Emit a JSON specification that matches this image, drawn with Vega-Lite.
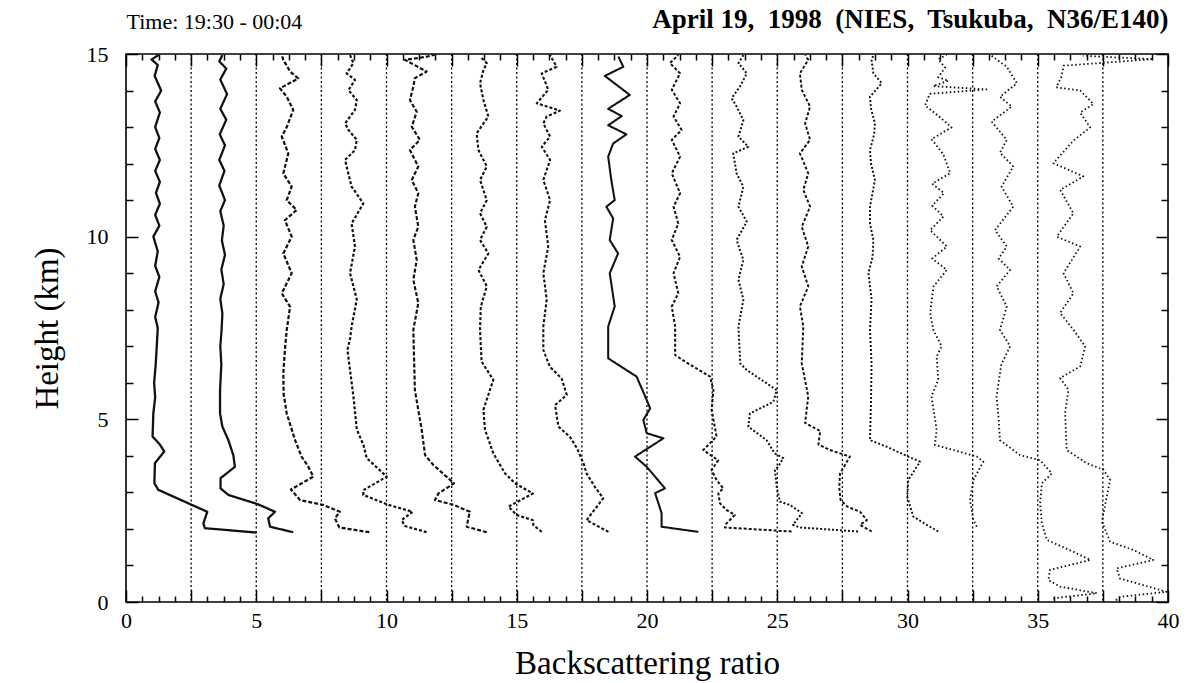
{
  "$schema": "https://vega.github.io/schema/vega-lite/v6.json",
  "width": 1042,
  "height": 548,
  "autosize": {"type": "none"},
  "padding": {"left": 126, "top": 54, "right": 22, "bottom": 81},
  "background": "white",
  "config": {
    "font": "Liberation Serif",
    "view": {"stroke": "#000", "strokeWidth": 1.6},
    "axis": {"labelColor": "#000", "titleColor": "#000", "tickColor": "#000", "domain": false, "grid": false, "tickWidth": 1.5}
  },
  "datasets": {
    "frame": [{"x": 0, "h": 0}, {"x": 40, "h": 15}],
    "grid": [{"v": 2.5}, {"v": 5}, {"v": 7.5}, {"v": 10}, {"v": 12.5}, {"v": 15}, {"v": 17.5}, {"v": 20}, {"v": 22.5}, {"v": 25}, {"v": 27.5}, {"v": 30}, {"v": 32.5}, {"v": 35}, {"v": 37.5}],
    "profiles": [
      {"p":1,"h":1.90,"x":5.02},{"p":1,"h":2.02,"x":3.03},{"p":1,"h":2.15,"x":2.97},{"p":1,"h":2.47,"x":3.12},{"p":1,"h":2.66,"x":2.52},{"p":1,"h":3.07,"x":1.24},{"p":1,"h":3.25,"x":1.09},{"p":1,"h":3.80,"x":1.11},{"p":1,"h":4.12,"x":1.47},{"p":1,"h":4.30,"x":1.31},{"p":1,"h":4.53,"x":1.02},{"p":1,"h":5.17,"x":1.05},{"p":1,"h":5.6,"x":1.12},{"p":1,"h":6.0,"x":1.08},{"p":1,"h":6.5,"x":1.14},{"p":1,"h":7.0,"x":1.18},{"p":1,"h":7.5,"x":1.22},{"p":1,"h":7.8,"x":1.12},{"p":1,"h":8.2,"x":1.25},{"p":1,"h":8.5,"x":1.12},{"p":1,"h":8.9,"x":1.28},{"p":1,"h":9.2,"x":1.12},{"p":1,"h":9.6,"x":1.22},{"p":1,"h":10.0,"x":1.05},{"p":1,"h":10.3,"x":1.28},{"p":1,"h":10.6,"x":1.12},{"p":1,"h":10.9,"x":1.30},{"p":1,"h":11.2,"x":1.15},{"p":1,"h":11.5,"x":1.30},{"p":1,"h":11.8,"x":1.12},{"p":1,"h":12.1,"x":1.30},{"p":1,"h":12.4,"x":1.12},{"p":1,"h":12.7,"x":1.28},{"p":1,"h":13.0,"x":1.12},{"p":1,"h":13.4,"x":1.30},{"p":1,"h":13.7,"x":1.12},{"p":1,"h":14.0,"x":1.35},{"p":1,"h":14.4,"x":1.10},{"p":1,"h":14.7,"x":1.22},{"p":1,"h":14.85,"x":0.98},{"p":1,"h":14.97,"x":1.25},
      {"p":2,"h":1.91,"x":6.42},{"p":2,"h":2.06,"x":5.53},{"p":2,"h":2.29,"x":5.46},{"p":2,"h":2.47,"x":5.72},{"p":2,"h":2.68,"x":5.05},{"p":2,"h":2.93,"x":3.93},{"p":2,"h":3.11,"x":3.63},{"p":2,"h":3.39,"x":3.63},{"p":2,"h":3.70,"x":4.18},{"p":2,"h":4.02,"x":4.12},{"p":2,"h":4.43,"x":3.93},{"p":2,"h":4.80,"x":3.70},{"p":2,"h":5.16,"x":3.61},{"p":2,"h":5.80,"x":3.61},{"p":2,"h":6.5,"x":3.66},{"p":2,"h":7.0,"x":3.62},{"p":2,"h":7.45,"x":3.67},{"p":2,"h":7.9,"x":3.70},{"p":2,"h":8.3,"x":3.62},{"p":2,"h":8.7,"x":3.75},{"p":2,"h":9.1,"x":3.66},{"p":2,"h":9.5,"x":3.80},{"p":2,"h":9.9,"x":3.68},{"p":2,"h":10.3,"x":3.75},{"p":2,"h":10.7,"x":3.62},{"p":2,"h":11.0,"x":3.80},{"p":2,"h":11.4,"x":3.58},{"p":2,"h":11.8,"x":3.78},{"p":2,"h":12.1,"x":3.58},{"p":2,"h":12.5,"x":3.80},{"p":2,"h":12.8,"x":3.60},{"p":2,"h":13.2,"x":3.85},{"p":2,"h":13.5,"x":3.62},{"p":2,"h":13.9,"x":3.88},{"p":2,"h":14.3,"x":3.62},{"p":2,"h":14.6,"x":3.85},{"p":2,"h":14.8,"x":3.58},{"p":2,"h":14.97,"x":3.70},
      {"p":3,"h":1.91,"x":9.34},{"p":3,"h":2.04,"x":8.19},{"p":3,"h":2.29,"x":8.02},{"p":3,"h":2.47,"x":8.21},{"p":3,"h":2.66,"x":7.55},{"p":3,"h":2.79,"x":6.68},{"p":3,"h":3.08,"x":6.33},{"p":3,"h":3.43,"x":7.19},{"p":3,"h":3.70,"x":7.00},{"p":3,"h":3.98,"x":6.74},{"p":3,"h":4.43,"x":6.49},{"p":3,"h":5.16,"x":6.17},{"p":3,"h":5.70,"x":6.05},{"p":3,"h":6.26,"x":6.04},{"p":3,"h":6.90,"x":6.10},{"p":3,"h":7.45,"x":6.17},{"p":3,"h":8.08,"x":6.30},{"p":3,"h":8.45,"x":5.98},{"p":3,"h":9.0,"x":6.36},{"p":3,"h":9.54,"x":6.04},{"p":3,"h":10.0,"x":6.36},{"p":3,"h":10.45,"x":6.10},{"p":3,"h":10.73,"x":6.55},{"p":3,"h":11.0,"x":6.17},{"p":3,"h":11.37,"x":6.36},{"p":3,"h":11.73,"x":6.04},{"p":3,"h":12.28,"x":6.23},{"p":3,"h":12.74,"x":5.98},{"p":3,"h":13.0,"x":6.17},{"p":3,"h":13.47,"x":6.42},{"p":3,"h":13.83,"x":6.17},{"p":3,"h":14.06,"x":5.91},{"p":3,"h":14.33,"x":6.61},{"p":3,"h":14.52,"x":6.30},{"p":3,"h":14.84,"x":6.04},{"p":3,"h":14.97,"x":5.98},
      {"p":4,"h":1.91,"x":11.54},{"p":4,"h":2.08,"x":10.71},{"p":4,"h":2.24,"x":10.58},{"p":4,"h":2.47,"x":11.00},{"p":4,"h":2.66,"x":10.07},{"p":4,"h":2.93,"x":9.11},{"p":4,"h":3.06,"x":9.11},{"p":4,"h":3.43,"x":10.01},{"p":4,"h":3.94,"x":9.24},{"p":4,"h":4.31,"x":9.11},{"p":4,"h":4.72,"x":8.86},{"p":4,"h":5.63,"x":8.73},{"p":4,"h":6.90,"x":8.50},{"p":4,"h":7.20,"x":8.60},{"p":4,"h":7.54,"x":8.66},{"p":4,"h":8.28,"x":8.86},{"p":4,"h":9.0,"x":8.60},{"p":4,"h":9.73,"x":8.79},{"p":4,"h":10.36,"x":8.66},{"p":4,"h":10.91,"x":9.11},{"p":4,"h":11.37,"x":8.66},{"p":4,"h":11.92,"x":8.47},{"p":4,"h":12.1,"x":8.41},{"p":4,"h":12.37,"x":8.79},{"p":4,"h":12.65,"x":8.86},{"p":4,"h":12.92,"x":8.54},{"p":4,"h":13.1,"x":8.41},{"p":4,"h":13.47,"x":8.79},{"p":4,"h":13.74,"x":8.86},{"p":4,"h":14.01,"x":8.54},{"p":4,"h":14.29,"x":8.79},{"p":4,"h":14.47,"x":8.47},{"p":4,"h":14.75,"x":8.73},{"p":4,"h":14.97,"x":8.60},
      {"p":5,"h":1.91,"x":13.85},{"p":5,"h":2.06,"x":13.08},{"p":5,"h":2.29,"x":13.14},{"p":5,"h":2.47,"x":13.20},{"p":5,"h":2.66,"x":12.57},{"p":5,"h":2.79,"x":11.86},{"p":5,"h":2.97,"x":11.99},{"p":5,"h":3.25,"x":12.59},{"p":5,"h":3.75,"x":11.80},{"p":5,"h":4.02,"x":11.48},{"p":5,"h":4.72,"x":11.35},{"p":5,"h":5.80,"x":11.09},{"p":5,"h":7.45,"x":11.03},{"p":5,"h":8.18,"x":11.22},{"p":5,"h":8.82,"x":11.03},{"p":5,"h":9.36,"x":11.16},{"p":5,"h":9.91,"x":11.03},{"p":5,"h":10.27,"x":11.22},{"p":5,"h":10.82,"x":11.09},{"p":5,"h":11.19,"x":11.22},{"p":5,"h":11.55,"x":10.97},{"p":5,"h":11.92,"x":11.22},{"p":5,"h":12.37,"x":10.90},{"p":5,"h":12.65,"x":11.28},{"p":5,"h":13.01,"x":10.97},{"p":5,"h":13.42,"x":11.16},{"p":5,"h":13.74,"x":10.90},{"p":5,"h":14.11,"x":11.03},{"p":5,"h":14.34,"x":11.09},{"p":5,"h":14.52,"x":11.54},{"p":5,"h":14.84,"x":10.71},{"p":5,"h":14.92,"x":11.50},{"p":5,"h":14.98,"x":11.85},
      {"p":6,"h":1.92,"x":15.96},{"p":6,"h":2.10,"x":15.64},{"p":6,"h":2.24,"x":15.62},{"p":6,"h":2.38,"x":15.00},{"p":6,"h":2.61,"x":14.68},{"p":6,"h":2.97,"x":15.62},{"p":6,"h":3.25,"x":14.93},{"p":6,"h":3.52,"x":14.55},{"p":6,"h":4.07,"x":14.10},{"p":6,"h":4.72,"x":13.78},{"p":6,"h":5.26,"x":13.72},{"p":6,"h":6.08,"x":14.10},{"p":6,"h":6.58,"x":13.65},{"p":6,"h":7.45,"x":13.59},{"p":6,"h":8.08,"x":13.62},{"p":6,"h":8.64,"x":13.85},{"p":6,"h":9.09,"x":13.53},{"p":6,"h":9.54,"x":13.91},{"p":6,"h":9.91,"x":13.59},{"p":6,"h":10.27,"x":13.85},{"p":6,"h":10.64,"x":13.59},{"p":6,"h":11.0,"x":13.85},{"p":6,"h":11.55,"x":13.59},{"p":6,"h":11.92,"x":13.85},{"p":6,"h":12.37,"x":13.53},{"p":6,"h":12.83,"x":13.46},{"p":6,"h":13.29,"x":13.91},{"p":6,"h":13.74,"x":13.72},{"p":6,"h":14.2,"x":13.59},{"p":6,"h":14.56,"x":13.72},{"p":6,"h":14.75,"x":13.85},{"p":6,"h":14.93,"x":13.59},
      {"p":7,"h":1.92,"x":18.52},{"p":7,"h":2.24,"x":17.68},{"p":7,"h":2.84,"x":18.32},{"p":7,"h":3.16,"x":17.99},{"p":7,"h":3.52,"x":17.68},{"p":7,"h":3.80,"x":17.56},{"p":7,"h":4.21,"x":17.31},{"p":7,"h":4.52,"x":17.04},{"p":7,"h":4.80,"x":16.60},{"p":7,"h":5.39,"x":16.47},{"p":7,"h":5.67,"x":16.92},{"p":7,"h":6.12,"x":16.72},{"p":7,"h":6.44,"x":16.27},{"p":7,"h":6.90,"x":16.02},{"p":7,"h":7.54,"x":16.02},{"p":7,"h":8.28,"x":16.15},{"p":7,"h":9.0,"x":16.02},{"p":7,"h":9.73,"x":16.21},{"p":7,"h":10.45,"x":16.08},{"p":7,"h":11.0,"x":16.28},{"p":7,"h":11.55,"x":16.02},{"p":7,"h":12.1,"x":16.28},{"p":7,"h":12.46,"x":15.96},{"p":7,"h":12.74,"x":16.28},{"p":7,"h":13.1,"x":16.02},{"p":7,"h":13.29,"x":16.15},{"p":7,"h":13.45,"x":16.66},{"p":7,"h":13.65,"x":15.77},{"p":7,"h":14.02,"x":16.21},{"p":7,"h":14.47,"x":15.96},{"p":7,"h":14.65,"x":16.53},{"p":7,"h":14.97,"x":16.28},
      {"p":8,"h":1.92,"x":21.97},{"p":8,"h":2.06,"x":20.56},{"p":8,"h":2.43,"x":20.56},{"p":8,"h":2.70,"x":20.44},{"p":8,"h":2.98,"x":20.31},{"p":8,"h":3.11,"x":20.69},{"p":8,"h":3.70,"x":19.99},{"p":8,"h":3.98,"x":19.54},{"p":8,"h":4.48,"x":20.63},{"p":8,"h":4.62,"x":19.99},{"p":8,"h":4.98,"x":19.86},{"p":8,"h":5.30,"x":20.12},{"p":8,"h":5.53,"x":19.99},{"p":8,"h":6.17,"x":19.60},{"p":8,"h":6.67,"x":18.51},{"p":8,"h":7.54,"x":18.51},{"p":8,"h":8.09,"x":18.76},{"p":8,"h":9.0,"x":18.57},{"p":8,"h":9.54,"x":18.89},{"p":8,"h":9.91,"x":18.57},{"p":8,"h":10.5,"x":18.70},{"p":8,"h":10.82,"x":18.44},{"p":8,"h":11.0,"x":18.76},{"p":8,"h":11.55,"x":18.63},{"p":8,"h":12.19,"x":18.51},{"p":8,"h":12.55,"x":18.70},{"p":8,"h":12.80,"x":19.21},{"p":8,"h":13.05,"x":18.51},{"p":8,"h":13.30,"x":19.03},{"p":8,"h":13.50,"x":18.51},{"p":8,"h":13.88,"x":19.34},{"p":8,"h":14.40,"x":18.38},{"p":8,"h":14.65,"x":19.09},{"p":8,"h":14.93,"x":18.90},
      {"p":9,"h":1.93,"x":25.55},{"p":9,"h":2.04,"x":22.99},{"p":9,"h":2.15,"x":23.05},{"p":9,"h":2.38,"x":23.37},{"p":9,"h":2.52,"x":23.05},{"p":9,"h":2.70,"x":22.80},{"p":9,"h":2.98,"x":22.74},{"p":9,"h":3.11,"x":22.93},{"p":9,"h":3.34,"x":22.67},{"p":9,"h":3.61,"x":22.48},{"p":9,"h":3.88,"x":22.73},{"p":9,"h":4.16,"x":22.16},{"p":9,"h":4.53,"x":22.67},{"p":9,"h":5.26,"x":22.48},{"p":9,"h":5.80,"x":22.55},{"p":9,"h":6.17,"x":22.42},{"p":9,"h":6.58,"x":21.46},{"p":9,"h":6.76,"x":21.08},{"p":9,"h":7.54,"x":21.08},{"p":9,"h":8.09,"x":20.95},{"p":9,"h":8.45,"x":21.20},{"p":9,"h":9.0,"x":21.02},{"p":9,"h":9.45,"x":21.27},{"p":9,"h":9.91,"x":20.95},{"p":9,"h":10.36,"x":21.20},{"p":9,"h":10.82,"x":21.02},{"p":9,"h":11.19,"x":21.27},{"p":9,"h":11.73,"x":20.95},{"p":9,"h":12.19,"x":21.27},{"p":9,"h":12.65,"x":20.95},{"p":9,"h":12.92,"x":21.33},{"p":9,"h":13.29,"x":21.02},{"p":9,"h":13.65,"x":21.27},{"p":9,"h":14.02,"x":20.95},{"p":9,"h":14.47,"x":21.27},{"p":9,"h":14.75,"x":20.88},{"p":9,"h":14.97,"x":21.20},
      {"p":10,"h":1.93,"x":28.10},{"p":10,"h":2.04,"x":25.87},{"p":10,"h":2.11,"x":25.60},{"p":10,"h":2.43,"x":25.95},{"p":10,"h":2.65,"x":25.50},{"p":10,"h":2.75,"x":25.10},{"p":10,"h":3.15,"x":24.98},{"p":10,"h":3.61,"x":24.91},{"p":10,"h":3.70,"x":25.03},{"p":10,"h":3.94,"x":25.23},{"p":10,"h":4.07,"x":24.90},{"p":10,"h":4.43,"x":24.59},{"p":10,"h":4.80,"x":23.89},{"p":10,"h":5.16,"x":23.95},{"p":10,"h":5.48,"x":24.85},{"p":10,"h":5.80,"x":24.98},{"p":10,"h":6.35,"x":23.83},{"p":10,"h":6.53,"x":23.58},{"p":10,"h":7.54,"x":23.51},{"p":10,"h":8.28,"x":23.70},{"p":10,"h":8.82,"x":23.51},{"p":10,"h":9.36,"x":23.70},{"p":10,"h":9.91,"x":23.44},{"p":10,"h":10.41,"x":23.83},{"p":10,"h":10.82,"x":23.51},{"p":10,"h":11.37,"x":23.70},{"p":10,"h":11.73,"x":23.44},{"p":10,"h":12.28,"x":23.31},{"p":10,"h":12.46,"x":23.89},{"p":10,"h":12.74,"x":23.51},{"p":10,"h":13.19,"x":23.70},{"p":10,"h":13.56,"x":23.44},{"p":10,"h":13.79,"x":23.25},{"p":10,"h":14.11,"x":23.57},{"p":10,"h":14.47,"x":23.83},{"p":10,"h":14.75,"x":23.51},{"p":10,"h":14.97,"x":23.70},
      {"p":11,"h":1.93,"x":28.63},{"p":11,"h":2.11,"x":28.18},{"p":11,"h":2.24,"x":28.44},{"p":11,"h":2.47,"x":28.18},{"p":11,"h":2.61,"x":27.69},{"p":11,"h":2.79,"x":27.43},{"p":11,"h":3.15,"x":27.38},{"p":11,"h":3.52,"x":27.41},{"p":11,"h":3.98,"x":27.79},{"p":11,"h":4.16,"x":27.02},{"p":11,"h":4.31,"x":26.58},{"p":11,"h":4.68,"x":26.65},{"p":11,"h":4.90,"x":26.07},{"p":11,"h":5.63,"x":26.19},{"p":11,"h":6.53,"x":25.94},{"p":11,"h":7.54,"x":26.00},{"p":11,"h":8.09,"x":25.87},{"p":11,"h":8.64,"x":26.19},{"p":11,"h":9.18,"x":25.94},{"p":11,"h":9.73,"x":26.19},{"p":11,"h":10.27,"x":25.94},{"p":11,"h":10.82,"x":26.26},{"p":11,"h":11.28,"x":26.00},{"p":11,"h":11.73,"x":26.19},{"p":11,"h":12.28,"x":25.87},{"p":11,"h":12.65,"x":26.26},{"p":11,"h":13.10,"x":26.07},{"p":11,"h":13.56,"x":26.26},{"p":11,"h":14.02,"x":25.94},{"p":11,"h":14.47,"x":25.87},{"p":11,"h":14.84,"x":26.19},{"p":11,"h":14.97,"x":26.07},
      {"p":12,"h":1.93,"x":31.18},{"p":12,"h":2.11,"x":30.74},{"p":12,"h":2.34,"x":30.22},{"p":12,"h":2.88,"x":29.99},{"p":12,"h":3.34,"x":30.03},{"p":12,"h":3.84,"x":30.48},{"p":12,"h":3.98,"x":30.03},{"p":12,"h":4.25,"x":29.20},{"p":12,"h":4.43,"x":28.56},{"p":12,"h":5.5,"x":28.60},{"p":12,"h":6.53,"x":28.62},{"p":12,"h":7.45,"x":28.56},{"p":12,"h":8.3,"x":28.62},{"p":12,"h":9.0,"x":28.50},{"p":12,"h":9.45,"x":28.66},{"p":12,"h":9.91,"x":28.69},{"p":12,"h":10.36,"x":28.56},{"p":12,"h":10.82,"x":28.56},{"p":12,"h":11.55,"x":28.75},{"p":12,"h":12.0,"x":28.60},{"p":12,"h":12.37,"x":28.56},{"p":12,"h":12.8,"x":28.72},{"p":12,"h":13.1,"x":28.75},{"p":12,"h":13.5,"x":28.60},{"p":12,"h":13.83,"x":28.56},{"p":12,"h":14.2,"x":29.01},{"p":12,"h":14.47,"x":28.69},{"p":12,"h":14.84,"x":28.62},{"p":12,"h":14.97,"x":28.69},
      {"p":13,"h":2.06,"x":32.66},{"p":13,"h":2.24,"x":32.53},{"p":13,"h":2.79,"x":32.40},{"p":13,"h":3.34,"x":32.53},{"p":13,"h":3.84,"x":32.91},{"p":13,"h":3.98,"x":32.66},{"p":13,"h":4.16,"x":31.76},{"p":13,"h":4.30,"x":31.05},{"p":13,"h":4.71,"x":31.12},{"p":13,"h":5.63,"x":30.92},{"p":13,"h":6.08,"x":31.18},{"p":13,"h":6.72,"x":31.12},{"p":13,"h":7.0,"x":31.31},{"p":13,"h":7.45,"x":30.99},{"p":13,"h":7.91,"x":30.87},{"p":13,"h":8.64,"x":31.00},{"p":13,"h":9.09,"x":31.51},{"p":13,"h":9.40,"x":30.95},{"p":13,"h":9.73,"x":31.51},{"p":13,"h":10.18,"x":30.87},{"p":13,"h":10.55,"x":31.38},{"p":13,"h":10.85,"x":30.95},{"p":13,"h":11.19,"x":31.40},{"p":13,"h":11.45,"x":30.95},{"p":13,"h":11.74,"x":31.64},{"p":13,"h":12.26,"x":31.37},{"p":13,"h":12.67,"x":30.92},{"p":13,"h":12.99,"x":31.69},{"p":13,"h":13.31,"x":31.18},{"p":13,"h":13.59,"x":30.67},{"p":13,"h":13.91,"x":30.86},{"p":13,"h":14.03,"x":33.03},{"p":13,"h":14.12,"x":30.99},{"p":13,"h":14.27,"x":31.57},{"p":13,"h":14.36,"x":31.18},{"p":13,"h":14.63,"x":31.44},{"p":13,"h":14.86,"x":31.18},{"p":13,"h":14.97,"x":31.50},
      {"p":14,"h":0.10,"x":35.60},{"p":14,"h":0.24,"x":37.27},{"p":14,"h":0.42,"x":35.86},{"p":14,"h":0.60,"x":35.41},{"p":14,"h":0.88,"x":35.47},{"p":14,"h":1.15,"x":37.02},{"p":14,"h":1.37,"x":36.38},{"p":14,"h":1.70,"x":35.35},{"p":14,"h":2.15,"x":35.16},{"p":14,"h":2.70,"x":35.09},{"p":14,"h":3.25,"x":35.16},{"p":14,"h":3.52,"x":35.54},{"p":14,"h":3.88,"x":35.09},{"p":14,"h":4.02,"x":34.32},{"p":14,"h":4.43,"x":33.55},{"p":14,"h":5.0,"x":33.50},{"p":14,"h":5.63,"x":33.42},{"p":14,"h":6.5,"x":33.60},{"p":14,"h":7.0,"x":33.94},{"p":14,"h":7.45,"x":33.55},{"p":14,"h":8.09,"x":33.81},{"p":14,"h":8.64,"x":33.42},{"p":14,"h":9.09,"x":33.94},{"p":14,"h":9.40,"x":33.50},{"p":14,"h":9.73,"x":33.81},{"p":14,"h":10.18,"x":33.36},{"p":14,"h":10.82,"x":34.06},{"p":14,"h":11.37,"x":33.61},{"p":14,"h":11.92,"x":34.06},{"p":14,"h":12.30,"x":33.55},{"p":14,"h":12.65,"x":33.81},{"p":14,"h":13.15,"x":33.23},{"p":14,"h":13.56,"x":34.00},{"p":14,"h":13.83,"x":33.55},{"p":14,"h":14.2,"x":34.20},{"p":14,"h":14.65,"x":33.81},{"p":14,"h":14.98,"x":33.17},
      {"p":15,"h":0.05,"x":38.00},{"p":15,"h":0.14,"x":38.16},{"p":15,"h":0.28,"x":39.95},{"p":15,"h":0.64,"x":38.16},{"p":15,"h":0.92,"x":38.03},{"p":15,"h":1.15,"x":39.44},{"p":15,"h":1.42,"x":38.68},{"p":15,"h":1.65,"x":37.78},{"p":15,"h":2.20,"x":37.46},{"p":15,"h":2.88,"x":37.65},{"p":15,"h":3.34,"x":37.78},{"p":15,"h":3.62,"x":37.52},{"p":15,"h":3.80,"x":36.88},{"p":15,"h":4.16,"x":36.11},{"p":15,"h":5.17,"x":36.05},{"p":15,"h":5.81,"x":36.18},{"p":15,"h":6.13,"x":35.86},{"p":15,"h":6.45,"x":36.63},{"p":15,"h":7.00,"x":36.82},{"p":15,"h":7.45,"x":36.37},{"p":15,"h":7.91,"x":35.86},{"p":15,"h":8.45,"x":36.37},{"p":15,"h":9.00,"x":35.99},{"p":15,"h":9.73,"x":36.63},{"p":15,"h":10.00,"x":35.73},{"p":15,"h":10.64,"x":36.37},{"p":15,"h":11.28,"x":35.86},{"p":15,"h":11.65,"x":36.75},{"p":15,"h":12.01,"x":35.60},{"p":15,"h":12.63,"x":36.37},{"p":15,"h":12.99,"x":37.01},{"p":15,"h":13.40,"x":36.63},{"p":15,"h":13.63,"x":37.14},{"p":15,"h":14.00,"x":36.63},{"p":15,"h":14.09,"x":35.71},{"p":15,"h":14.36,"x":35.90},{"p":15,"h":14.68,"x":36.00},{"p":15,"h":14.86,"x":39.44},{"p":15,"h":14.95,"x":36.75}
    ]
  },
  "resolve": {"axis": {"x": "independent", "y": "independent"}},
  "layer": [
    {
      "data": {"name": "grid"},
      "mark": {"type": "rule", "color": "#000", "strokeWidth": 1.3, "strokeDash": [2, 2.5]},
      "encoding": {
        "x": {"field": "v", "type": "quantitative", "scale": {"domain": [0, 40], "nice": false, "zero": false},
          "axis": {"orient": "bottom", "values": [0,2.5,5,7.5,10,12.5,15,17.5,20,22.5,25,27.5,30,32.5,35,37.5,40], "tickSize": -12, "labels": false, "title": null}}
      }
    },
    {
      "data": {"name": "profiles"},
      "mark": {"type": "line", "color": "#111", "strokeJoin": "round", "strokeCap": "butt"},
      "encoding": {
        "x": {"field": "x", "type": "quantitative", "scale": {"domain": [0, 40], "nice": false, "zero": false},
          "axis": {"orient": "bottom", "values": [0,5,10,15,20,25,30,35,40], "ticks": false, "labelFontSize": 22, "labelPadding": 8, "labelFlush": false, "title": "Backscattering ratio", "titleFontSize": 33, "titleFontWeight": "normal", "titlePadding": 16}},
        "y": {"field": "h", "type": "quantitative", "scale": {"domain": [0, 15], "nice": false, "zero": false},
          "axis": {"orient": "left", "values": [0,5,10,15], "ticks": false, "labelFontSize": 22, "labelPadding": 18, "labelFlush": false, "title": "Height (km)", "titleFontSize": 33, "titleFontWeight": "normal", "titlePadding": 22}},
        "detail": {"field": "p", "type": "nominal"},
        "order": {"field": "h", "type": "quantitative"},
        "strokeDash": {"field": "p", "type": "nominal", "legend": null,
          "scale": {"domain": [1,2,3,4,5,6,7,8,9,10,11,12,13,14,15], "range": [[1,0],[1,0],[4,2],[3,2],[4,2],[3,2],[3,2],[1,0],[3,2],[2,2],[3,2],[2,2],[1.5,2.5],[1.5,2.5],[1.5,2.5]]}},
        "strokeWidth": {"field": "p", "type": "ordinal", "legend": null,
          "scale": {"domain": [1,2,3,4,5,6,7,8,9,10,11,12,13,14,15], "range": [2.3,1.8,1.5,1.5,1.5,1.5,1.5,2.5,1.5,1.5,1.5,1.5,1.7,1.7,1.7]}}
      }
    },
    {
      "data": {"name": "frame"},
      "mark": {"type": "point", "opacity": 0},
      "encoding": {
        "x": {"field": "x", "type": "quantitative", "scale": {"domain": [0, 40], "nice": false, "zero": false},
          "axis": {"orient": "top", "values": [0,2.5,5,7.5,10,12.5,15,17.5,20,22.5,25,27.5,30,32.5,35,37.5,40], "tickSize": -12, "labels": false, "title": "April 19,\u00a0 1998\u00a0 (NIES,\u00a0 Tsukuba,\u00a0 N36/E140)", "titleAnchor": "end", "titleAlign": "right", "titleFontSize": 27, "titleFontWeight": "bold", "titlePadding": 20}},
        "y": {"field": "h", "type": "quantitative", "scale": {"domain": [0, 15], "nice": false, "zero": false},
          "axis": {"orient": "left", "values": [0,5,10,15], "tickSize": -12, "labels": false, "title": null}}
      }
    },
    {
      "data": {"name": "frame"},
      "mark": {"type": "point", "opacity": 0},
      "encoding": {
        "x": {"field": "x", "type": "quantitative", "scale": {"domain": [0, 40], "nice": false, "zero": false},
          "axis": {"orient": "bottom", "values": [0.625,1.25,1.875,3.125,3.75,4.375,5.625,6.25,6.875,8.125,8.75,9.375,10.625,11.25,11.875,13.125,13.75,14.375,15.625,16.25,16.875,18.125,18.75,19.375,20.625,21.25,21.875,23.125,23.75,24.375,25.625,26.25,26.875,28.125,28.75,29.375,30.625,31.25,31.875,33.125,33.75,34.375,35.625,36.25,36.875,38.125,38.75,39.375], "tickSize": -6, "labels": false, "title": null}},
        "y": {"field": "h", "type": "quantitative", "scale": {"domain": [0, 15], "nice": false, "zero": false},
          "axis": {"orient": "left", "values": [1,2,3,4,6,7,8,9,11,12,13,14], "tickSize": -7, "labels": false, "title": null}}
      }
    },
    {
      "data": {"name": "frame"},
      "mark": {"type": "point", "opacity": 0},
      "encoding": {
        "x": {"field": "x", "type": "quantitative", "scale": {"domain": [0, 40], "nice": false, "zero": false},
          "axis": {"orient": "top", "values": [0.625,1.25,1.875,3.125,3.75,4.375,5.625,6.25,6.875,8.125,8.75,9.375,10.625,11.25,11.875,13.125,13.75,14.375,15.625,16.25,16.875,18.125,18.75,19.375,20.625,21.25,21.875,23.125,23.75,24.375,25.625,26.25,26.875,28.125,28.75,29.375,30.625,31.25,31.875,33.125,33.75,34.375,35.625,36.25,36.875,38.125,38.75,39.375], "tickSize": -6, "labels": false, "title": "Time: 19:30 - 00:04", "titleAnchor": "start", "titleAlign": "left", "titleFontSize": 22, "titleFontWeight": "normal", "titlePadding": 20}},
        "y": {"field": "h", "type": "quantitative", "scale": {"domain": [0, 15], "nice": false, "zero": false},
          "axis": {"orient": "right", "values": [1,2,3,4,6,7,8,9,11,12,13,14], "tickSize": -7, "labels": false, "title": null}}
      }
    },
    {
      "data": {"name": "frame"},
      "mark": {"type": "point", "opacity": 0},
      "encoding": {
        "x": {"field": "x", "type": "quantitative", "scale": {"domain": [0, 40], "nice": false, "zero": false}, "axis": null},
        "y": {"field": "h", "type": "quantitative", "scale": {"domain": [0, 15], "nice": false, "zero": false},
          "axis": {"orient": "right", "values": [0,5,10,15], "tickSize": -12, "labels": false, "title": null}}
      }
    }
  ]
}
